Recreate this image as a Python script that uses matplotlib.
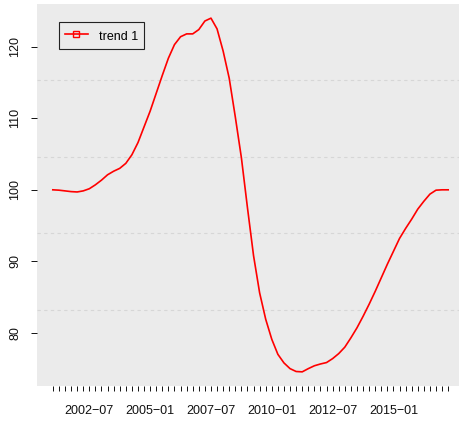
import numpy as np
import pandas as pd
import matplotlib
matplotlib.use("Agg")
import matplotlib.pyplot as plt
from matplotlib.lines import Line2D

plt.rcParams['font.family'] = ['Liberation Sans', 'DejaVu Sans']

# quarterly series, 2001-01 .. 2017-04
dates = pd.date_range('2001-01-01', periods=66, freq='QS')
trend = [100.0, 99.95, 99.85, 99.75, 99.7, 99.85, 100.15, 100.7, 101.35, 102.1,
         102.6, 103.0, 103.7, 104.9, 106.6, 108.8, 111.0, 113.5, 116.0, 118.4,
         120.3, 121.4, 121.8, 121.8, 122.4, 123.6, 124.0, 122.5, 119.4, 115.6,
         110.2, 104.5, 97.5, 90.8, 85.6, 81.9, 79.1, 77.0, 75.8, 75.0,
         74.6, 74.55, 75.0, 75.4, 75.65, 75.85, 76.4, 77.1, 78.0, 79.3,
         80.7, 82.3, 84.0, 85.8, 87.7, 89.6, 91.4, 93.2, 94.6, 95.9,
         97.3, 98.4, 99.4, 99.95, 100.0, 100.0]
series_name = "trend 1"
label_every = 10
label_start = 6
yticks = [80, 90, 100, 110, 120]

x = np.arange(len(trend))
labels = [d.strftime('%Y\u2212%m') for d in dates]

W, H = 459, 422
fig = plt.figure(figsize=(W / 100, H / 100), dpi=100)
left, right, top, bottom = 37, 464, 4, 386
ax = fig.add_axes([left / W, 1 - bottom / H, (right - left) / W, (bottom - top) / H])
ax.set_facecolor('#EBEBEB')
for s in ax.spines.values():
    s.set_visible(False)

# R style 4% padding
pad_x = 0.04 * (x[-1] - x[0])
ax.set_xlim(x[0] - pad_x, x[-1] + pad_x)
ymin, ymax = min(trend), max(trend)
pad_y = 0.04 * (ymax - ymin)
ax.set_ylim(ymin - pad_y, ymax + pad_y)

# grid: 4 dashed lines splitting the plot region in 5
for f in [0.2, 0.4, 0.6, 0.8]:
    ax.axhline(ymin - pad_y + f * (ymax - ymin + 2 * pad_y), color='#D6D6D6',
               lw=0.8, linestyle=(0, (3, 3)), zorder=1)

ax.plot(x, trend, color='red', lw=1.2, zorder=3)

ax.set_xticks(x)
ax.set_xticklabels([labels[i] if (i - label_start) % label_every == 0 and i >= label_start else ''
                    for i in x])
ax.tick_params(axis='x', length=3.5, width=0.7, pad=10, labelsize=9, colors='#111111')
ax.set_yticks(yticks)
ax.set_yticklabels([str(v) for v in yticks], rotation=90, va='center')
ax.tick_params(axis='y', length=4.5, width=0.7, pad=7, labelsize=9, colors='#111111')

h = Line2D([0], [0], color='red', lw=1.2, marker='s', markersize=5,
           markerfacecolor='none', markeredgecolor='red')
leg = ax.legend([h], [series_name], loc='upper left',
                bbox_to_anchor=(59 / W, 1 - 22 / H), bbox_transform=fig.transFigure,
                borderaxespad=0, fancybox=False, framealpha=1, fontsize=9,
                handlelength=1.85, handleheight=1.6, borderpad=0.45, handletextpad=0.9)
leg.get_frame().set_facecolor('#EBEBEB')
leg.get_frame().set_edgecolor('#222222')
leg.get_frame().set_linewidth(0.8)

fig.savefig('out.png', dpi=100)
